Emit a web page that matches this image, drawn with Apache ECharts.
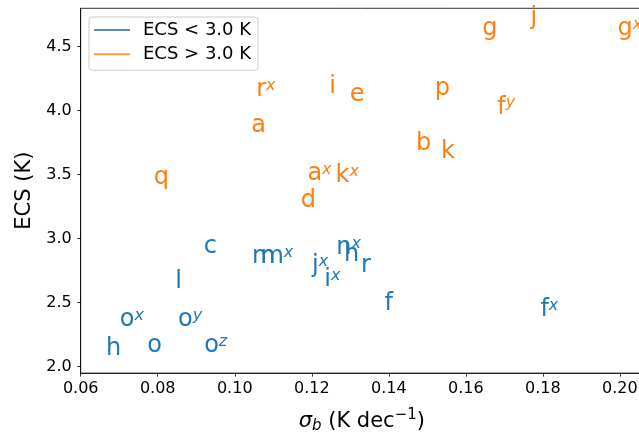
<!DOCTYPE html>
<html><head><meta charset="utf-8">
<script src="https://cdn.jsdelivr.net/npm/echarts@6/dist/echarts.min.js"></script>
<style>html,body{margin:0;padding:0;background:#fff}#c{width:639px;height:433px}</style>
</head><body><div id="c"></div>
<script>
// ECS < 3.0 K group
const lowLetters = ['c','m','m','j','i','n','h','r','l','f','f','o','o','h','o','o'];
const lowSup     = ['', '', 'x','x','x','x','', '', '', '', 'x','x','y','', '', 'z'];
const lowSigma   = [0.0917,0.1042,0.1064,0.1198,0.1230,0.1261,0.1281,0.1325,0.0843,0.1386,0.1791,0.0699,0.0850,0.0663,0.0770,0.0918];
const lowEcs     = [2.886,2.802,2.802,2.730,2.625,2.873,2.820,2.734,2.605,2.435,2.391,2.309,2.309,2.084,2.105,2.105];
// ECS > 3.0 K group
const highLetters = ['r','i','e','a','q','a','k','d','g','j','g','p','f','b','k'];
const highSup     = ['x','', '', '', '', 'x','x','', '', '', 'x','', 'y','', ''];
const highSigma   = [0.1053,0.1243,0.1296,0.1040,0.0787,0.1186,0.1259,0.1169,0.1640,0.1765,0.1991,0.1517,0.1679,0.1468,0.1533];
const highEcs     = [4.107,4.134,4.073,3.830,3.425,3.451,3.4375,3.244,4.584,4.670,4.584,4.113,3.972,3.6875,3.628];
// axes
const xTicks = [0.06,0.08,0.10,0.12,0.14,0.16,0.18,0.20];
const yTicks = [2.0,2.5,3.0,3.5,4.0,4.5];
const seriesNames = ['ECS < 3.0 K','ECS > 3.0 K'];
const colors = ['#1f77b4','#ff7f0e'];

const FONT = 'DejaVu Sans';
function makeSeries(name, color, letters, sups, xs, ys) {
  return {
    type: 'scatter', name: name, symbolSize: 1,
    itemStyle: {color: 'transparent'},
    data: xs.map((x, i) => [x, ys[i], i]),
    label: {
      show: true, position: [0, 0], offset: [1.5, -6.5], align: 'left', verticalAlign: 'middle',
      color: color, opacity: 1, fontFamily: FONT,
      formatter: p => '{m|' + letters[p.value[2]] + '}' + (sups[p.value[2]] ? '{s|' + sups[p.value[2]] + '}' : ''),
      rich: {
        m: {fontSize: 24, lineHeight: 24, color: color, fontFamily: FONT},
        s: {fontSize: 16, lineHeight: 14.4, verticalAlign: 'top', fontStyle: 'italic', color: color, fontFamily: FONT}
      }
    },
    emphasis: {disabled: true}
  };
}
const chart = echarts.init(document.getElementById('c'), null, {renderer: 'canvas'});
chart.setOption({
  animation: false,
  backgroundColor: '#fff',
  grid: {left: 80.7, right: -4, top: 8.3, bottom: 59.9, show: true, borderColor: '#000', borderWidth: 0.8,
         backgroundColor: 'transparent', containLabel: false, outerBoundsMode: 'none'},
  legend: {
    orient: 'vertical', left: 89, top: 17, padding: [4, 7, 7, 5], itemGap: 6.3,
    itemWidth: 36, itemHeight: 2, borderColor: '#cccccc', borderWidth: 1, borderRadius: 3,
    backgroundColor: 'rgba(255,255,255,0.8)',
    textStyle: {fontFamily: FONT, fontSize: 18, lineHeight: 18, color: '#000', padding: [0, 0, 0, 8]},
    data: seriesNames.map((n, i) => ({name: n, icon: 'rect', itemStyle: {color: colors[i]}}))
  },
  xAxis: {
    type: 'value', min: 0.06, max: 0.206,
    axisLine: {show: true, onZero: false, lineStyle: {color: '#000', width: 0.8}},
    axisTick: {show: true, length: 3.5, lineStyle: {color: '#000', width: 0.8}, customValues: xTicks},
    axisLabel: {customValues: xTicks, formatter: v => v.toFixed(2), fontFamily: FONT, fontSize: 16, color: '#000', margin: 8},
    splitLine: {show: false},
    name: '{i|σ}{sub|b} (K dec{sup|−1})', nameLocation: 'middle', nameGap: 35,
    nameTextStyle: {fontFamily: FONT, fontSize: 21, lineHeight: 26, color: '#000',
      rich: {
        i: {fontFamily: FONT, fontSize: 21, fontStyle: 'italic', lineHeight: 26, color: '#000'},
        sub: {fontFamily: FONT, fontSize: 15, fontStyle: 'italic', lineHeight: 15, verticalAlign: 'bottom', color: '#000'},
        sup: {fontFamily: FONT, fontSize: 15, lineHeight: 12, verticalAlign: 'top', color: '#000'}
      }}
  },
  yAxis: {
    type: 'value', min: 1.95, max: 4.8,
    axisLine: {show: true, onZero: false, lineStyle: {color: '#000', width: 0.8}},
    axisTick: {show: true, length: 3.5, lineStyle: {color: '#000', width: 0.8}, customValues: yTicks},
    axisLabel: {customValues: yTicks, formatter: v => v.toFixed(1), fontFamily: FONT, fontSize: 16, color: '#000', margin: 9},
    splitLine: {show: false},
    name: 'ECS (K)', nameLocation: 'middle', nameGap: 42,
    nameTextStyle: {fontFamily: FONT, fontSize: 21, color: '#000'}
  },
  series: [
    makeSeries(seriesNames[0], colors[0], lowLetters, lowSup, lowSigma, lowEcs),
    makeSeries(seriesNames[1], colors[1], highLetters, highSup, highSigma, highEcs)
  ]
});
</script></body></html>
